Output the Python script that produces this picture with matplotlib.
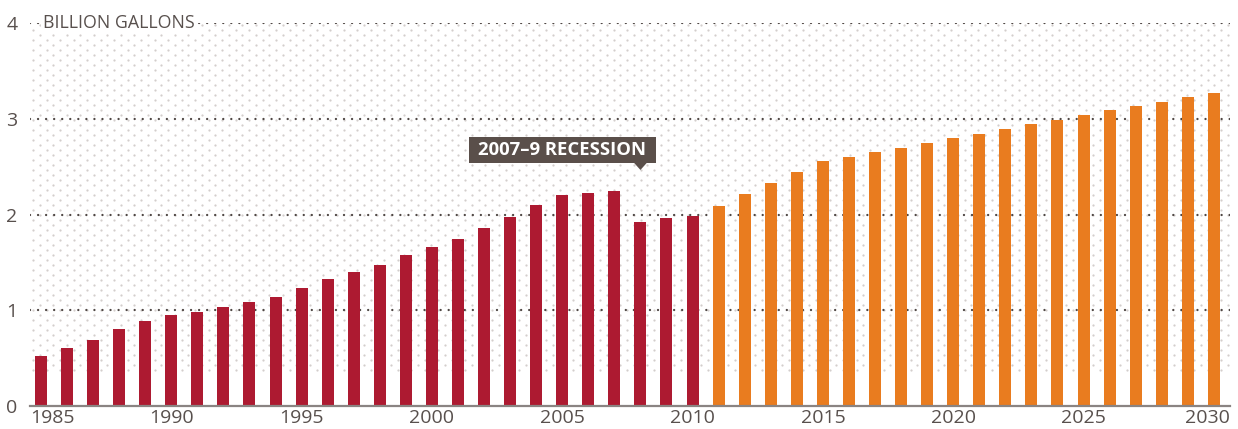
import numpy as np
import matplotlib
matplotlib.use("Agg")
import matplotlib.pyplot as plt
import matplotlib.transforms as mtransforms
from matplotlib.patches import Rectangle, Polygon

plt.rcParams['font.family'] = ['Open Sans', 'DejaVu Sans']

# Данные: потребление, млрд галлонов
years_hist = list(range(1985, 2011))
values_hist = [0.52, 0.61, 0.69, 0.80, 0.89, 0.95, 0.98, 1.03, 1.09, 1.14,
               1.23, 1.33, 1.40, 1.47, 1.58, 1.66, 1.74, 1.86, 1.97, 2.10,
               2.20, 2.22, 2.25, 1.92, 1.96, 1.98]
years_proj = list(range(2011, 2031))
values_proj = [2.09, 2.21, 2.33, 2.44, 2.56, 2.60, 2.65, 2.69, 2.75, 2.80,
               2.84, 2.89, 2.95, 2.99, 3.04, 3.09, 3.13, 3.17, 3.23, 3.27]
x_ticks = [1985, 1990, 1995, 2000, 2005, 2010, 2015, 2020, 2025, 2030]
y_ticks = [0, 1, 2, 3, 4]
recession_year = 2008
recession_label = '2007–9 RECESSION'
unit_label = 'BILLION GALLONS'

RED = '#ad1a31'
ORANGE = '#e97c1f'
TEXT = '#58504d'
GRID = '#4f4744'
BOXC = '#5a4f4a'

fig = plt.figure(figsize=(12.38, 4.29), dpi=100)
ax = fig.add_axes([30 / 1238, 1 - 406 / 429, 1200 / 1238, 383 / 429])
ax.set_xlim(1984.58, 2030.62)
ax.set_ylim(0, 4)

# фоновый точечный узор
ax_w, ax_h = 1200, 383
rows = np.arange(0.094 * ax_h, ax_h, 5.0)
px, py = [], []
for i, r in enumerate(rows):
    off = 0 if i % 2 == 0 else 6.75
    xs = np.arange(3 + off, ax_w, 13.5)
    px.extend(xs / ax_w)
    py.extend([r / ax_h] * len(xs))
ax.scatter(px, py, s=2.6, color='#d3cecc', linewidths=0, transform=ax.transAxes,
           zorder=0, clip_on=False)

# сетка пунктиром из точек
for y in y_ticks[1:]:
    ax.axhline(y, color=GRID, lw=1.7, dashes=(0.01, 3.4), dash_capstyle='round', zorder=1)

ax.bar(years_hist, values_hist, width=0.46, color=RED, zorder=2)
ax.bar(years_proj, values_proj, width=0.46, color=ORANGE, zorder=2)

for s in ['top', 'right', 'left']:
    ax.spines[s].set_visible(False)
ax.spines['bottom'].set_color('#8a8482')
ax.spines['bottom'].set_linewidth(1.6)
ax.spines['bottom'].set_zorder(3)

ax.set_yticks(y_ticks)
ax.set_yticklabels([str(v) for v in y_ticks])
ax.set_xticks(x_ticks)
ax.set_xticklabels([str(v) for v in x_ticks])
ax.tick_params(length=0, labelsize=14, labelcolor=TEXT)
ax.tick_params(axis='y', pad=9)
ax.tick_params(axis='x', pad=2)
labels = ax.get_xticklabels()
labels[0].set_ha('left')
labels[0].set_transform(labels[0].get_transform() +
                        mtransforms.ScaledTranslation(-11 / 100, 0, fig.dpi_scale_trans))
labels[-1].set_ha('right')
labels[-1].set_transform(labels[-1].get_transform() +
                         mtransforms.ScaledTranslation(16 / 100, 0, fig.dpi_scale_trans))

ax.text(0.011, 1.0, unit_label, transform=ax.transAxes, ha='left', va='center',
        fontsize=12.8, color=TEXT, zorder=4,
        bbox=dict(facecolor='white', edgecolor='none', pad=1.5))

# подпись рецессии
rv = values_hist[years_hist.index(recession_year)]
tip_y = rv + 0.545
box_bottom = tip_y + 0.075
box_top = box_bottom + 0.27
box_left = recession_year - 6.58
box_right = recession_year + 0.59
ax.add_patch(Rectangle((box_left, box_bottom), box_right - box_left, box_top - box_bottom,
                       facecolor=BOXC, edgecolor='none', zorder=5))
ax.add_patch(Polygon([(recession_year - 0.28, box_bottom + 0.01),
                      (recession_year + 0.28, box_bottom + 0.01),
                      (recession_year, tip_y)], closed=True,
                     facecolor=BOXC, edgecolor='none', zorder=5))
ax.text((box_left + box_right) / 2, (box_bottom + box_top) / 2, recession_label,
        ha='center', va='center', fontsize=13.3, fontweight='bold', color='white', zorder=6)

fig.savefig('out.png', dpi=100)
